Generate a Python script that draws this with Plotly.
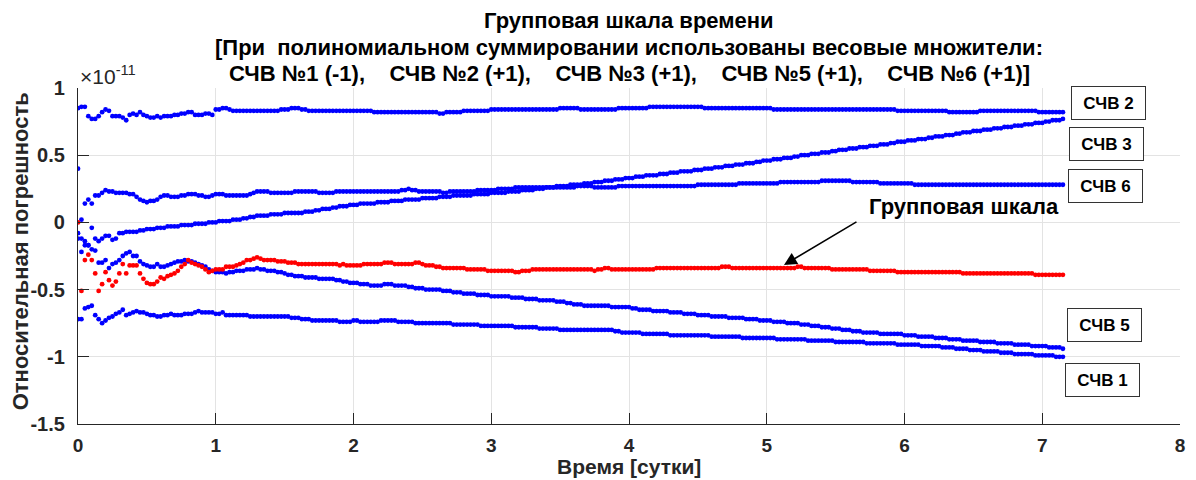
import numpy as np
import plotly.graph_objects as go

# sampling step of the measurements, days
STEP_DAYS = 0.025
SCALE = 0.01  # values below are stored in units of 1e-13 (0.01 of the 1e-11 axis unit)

schv2 = [85, 86, 86, 79, 77, 77, 79, 82, 84, 83, 79, 79, 79, 78, 76, 80, 81, 80, 82, 80,
         79, 78, 78, 79, 78, 79, 79, 79, 80, 80, 81, 81, 82, 82, 80, 80, 80, 81, 81, 80,
         84, 84, 85, 85, 84, 83, 83, 83, 83, 83, 83, 83, 83, 83, 83, 83, 83, 83, 83, 84,
         84, 84, 85, 85, 85, 84, 84, 83, 83, 83, 83, 83, 83, 83, 83, 83, 83, 83, 83, 83,
         83, 83, 83, 83, 83, 83, 82, 82, 82, 82, 82, 82, 82, 82, 82, 82, 82, 82, 82, 82,
         82, 82, 82, 82, 82, 81, 81, 82, 82, 82, 82, 82, 83, 83, 83, 83, 83, 83, 83, 83,
         84, 84, 84, 84, 84, 84, 84, 84, 84, 84, 84, 84, 84, 84, 84, 84, 84, 84, 84, 84,
         85, 85, 85, 85, 85, 85, 84, 84, 84, 84, 84, 84, 84, 84, 84, 84, 84, 85, 85, 85,
         85, 85, 85, 85, 85, 85, 86, 86, 86, 86, 86, 86, 86, 86, 86, 86, 86, 86, 86, 86,
         86, 86, 85, 85, 85, 85, 85, 85, 85, 85, 85, 85, 85, 85, 85, 85, 85, 85, 85, 85,
         85, 85, 84, 84, 84, 84, 84, 84, 84, 84, 84, 84, 84, 84, 84, 84, 84, 84, 84, 84,
         84, 84, 84, 84, 84, 84, 84, 84, 84, 84, 84, 84, 84, 84, 84, 84, 84, 84, 83, 83,
         83, 83, 83, 83, 83, 83, 83, 83, 83, 83, 83, 83, 83, 82, 82, 82, 82, 82, 82, 82,
         82, 82, 83, 83, 83, 83, 83, 83, 83, 83, 83, 83, 83, 83, 83, 83, 83, 83, 83, 82,
         82, 82, 82, 82, 82, 82, 82]

schv3 = [-8, -12, -14, -17, -4, -12, -14, -12, -10, -10, -13, -12, -8, -8, -7, -7, -7, -7, -6, -6,
         -5, -5, -5, -4, -4, -4, -3, -3, -3, -3, -2, -2, -2, -2, -1, -1, -1, -1, 0, 0,
         0, 1, 1, 1, 1, 2, 2, 2, 3, 3, 4, 4, 5, 5, 5, 5, 6, 6, 6, 6,
         7, 7, 7, 7, 7, 7, 8, 8, 8, 9, 9, 10, 10, 10, 11, 11, 12, 12, 12, 13,
         13, 13, 14, 14, 14, 14, 14, 15, 15, 15, 15, 16, 16, 16, 16, 17, 17, 17, 17, 17,
         18, 18, 18, 18, 18, 19, 19, 19, 19, 20, 20, 20, 20, 20, 20, 21, 21, 21, 21, 21,
         22, 22, 22, 22, 22, 23, 23, 23, 23, 24, 24, 24, 24, 25, 25, 25, 26, 26, 26, 27,
         27, 27, 27, 28, 28, 28, 28, 29, 29, 29, 30, 30, 30, 31, 31, 31, 32, 32, 32, 33,
         33, 33, 34, 34, 34, 35, 35, 35, 35, 36, 36, 36, 37, 37, 37, 38, 38, 38, 38, 39,
         39, 39, 40, 40, 40, 41, 41, 41, 42, 42, 42, 43, 43, 43, 44, 44, 44, 45, 45, 46,
         46, 46, 47, 47, 47, 48, 48, 48, 49, 49, 50, 50, 50, 51, 51, 51, 52, 52, 52, 53,
         53, 54, 54, 54, 55, 55, 55, 56, 56, 56, 57, 57, 57, 58, 58, 58, 59, 59, 60, 60,
         60, 61, 61, 61, 62, 62, 62, 63, 63, 64, 64, 64, 65, 65, 65, 66, 66, 67, 67, 67,
         68, 68, 68, 69, 69, 69, 70, 70, 70, 71, 71, 71, 72, 72, 72, 73, 73, 73, 74, 74,
         74, 75, 75, 76, 76, 76, 77]

schv6 = [40, 2, 14, 17, 14, 20, 20, 22, 24, 23, 23, 22, 22, 22, 22, 21, 21, 19, 17, 16,
         15, 16, 16, 17, 19, 20, 20, 19, 19, 19, 20, 20, 21, 21, 21, 20, 20, 19, 19, 20,
         21, 21, 21, 20, 20, 20, 20, 20, 20, 20, 21, 22, 23, 23, 23, 23, 22, 22, 22, 22,
         22, 22, 22, 23, 23, 23, 23, 23, 23, 23, 22, 22, 22, 22, 22, 23, 23, 23, 23, 23,
         23, 23, 23, 23, 23, 23, 23, 23, 23, 23, 23, 23, 23, 23, 24, 24, 25, 24, 24, 23,
         23, 23, 23, 23, 23, 23, 22, 22, 23, 23, 23, 23, 23, 23, 23, 23, 24, 24, 24, 24,
         24, 24, 25, 25, 25, 25, 25, 26, 26, 26, 26, 26, 26, 26, 26, 26, 26, 26, 26, 26,
         26, 26, 26, 26, 26, 27, 27, 27, 27, 27, 26, 26, 26, 26, 26, 26, 26, 27, 27, 27,
         27, 27, 27, 27, 27, 27, 27, 27, 27, 27, 27, 27, 27, 27, 27, 27, 27, 27, 27, 27,
         28, 28, 28, 28, 28, 28, 28, 28, 28, 28, 28, 28, 29, 29, 29, 29, 29, 29, 29, 29,
         29, 29, 29, 29, 30, 30, 30, 30, 30, 30, 30, 30, 30, 30, 30, 30, 31, 31, 31, 31,
         31, 31, 31, 31, 31, 30, 30, 30, 30, 30, 30, 30, 30, 29, 29, 29, 29, 29, 29, 29,
         29, 29, 29, 28, 28, 28, 28, 28, 28, 28, 28, 28, 28, 28, 28, 28, 28, 28, 28, 28,
         28, 28, 28, 28, 28, 28, 28, 28, 28, 28, 28, 28, 28, 28, 28, 28, 28, 28, 28, 28,
         28, 28, 28, 28, 28, 28, 28]

schv5 = [-12, -22, -17, -17, -20, -21, -30, -30, -28, -34, -31, -30, -28, -25, -23, -22, -25, -25, -29, -31,
         -32, -33, -33, -31, -33, -33, -32, -31, -30, -29, -29, -28, -29, -29, -30, -31, -32, -33, -35, -36,
         -37, -37, -37, -38, -37, -37, -36, -36, -36, -35, -35, -35, -34, -35, -35, -36, -36, -36, -37, -37,
         -38, -39, -39, -40, -40, -40, -41, -41, -41, -41, -42, -42, -42, -42, -42, -43, -43, -44, -44, -45,
         -45, -45, -46, -46, -46, -47, -47, -47, -47, -46, -46, -46, -47, -47, -47, -47, -48, -48, -49, -49,
         -49, -50, -50, -50, -50, -50, -51, -51, -51, -52, -52, -52, -53, -53, -53, -53, -54, -54, -54, -54,
         -55, -55, -55, -55, -55, -55, -56, -56, -56, -56, -57, -57, -57, -57, -58, -58, -58, -58, -58, -59,
         -59, -59, -60, -60, -61, -61, -61, -62, -62, -62, -62, -62, -62, -62, -62, -63, -63, -63, -63, -63,
         -63, -64, -64, -65, -65, -65, -65, -66, -66, -66, -66, -66, -67, -67, -67, -67, -68, -68, -68, -68,
         -69, -69, -69, -69, -70, -70, -70, -70, -70, -71, -71, -71, -71, -71, -72, -72, -72, -72, -73, -73,
         -73, -73, -74, -74, -74, -74, -75, -75, -75, -75, -76, -76, -76, -77, -77, -77, -78, -78, -78, -79,
         -79, -79, -80, -80, -80, -81, -81, -81, -82, -82, -82, -82, -82, -83, -83, -83, -83, -83, -83, -83,
         -84, -84, -84, -84, -85, -85, -85, -85, -85, -86, -86, -86, -86, -87, -87, -87, -87, -88, -88, -88,
         -88, -88, -89, -89, -89, -89, -89, -90, -90, -90, -90, -90, -91, -91, -91, -91, -91, -92, -92, -92,
         -92, -92, -93, -93, -93, -93, -94]

schv1 = [-72, -72, -64, -63, -62, -69, -72, -75, -73, -71, -70, -68, -67, -65, -69, -68, -67, -66, -67, -67,
         -68, -69, -69, -70, -70, -69, -69, -68, -69, -69, -69, -68, -68, -68, -67, -66, -67, -67, -67, -67,
         -68, -68, -67, -69, -69, -69, -69, -69, -69, -69, -70, -70, -70, -70, -70, -70, -70, -70, -70, -70,
         -70, -70, -71, -71, -71, -72, -72, -72, -73, -73, -73, -73, -73, -73, -73, -73, -74, -74, -74, -74,
         -73, -73, -74, -74, -74, -74, -74, -74, -73, -73, -73, -73, -73, -74, -74, -74, -74, -74, -75, -75,
         -75, -75, -75, -75, -75, -75, -75, -75, -75, -76, -76, -76, -76, -76, -76, -76, -76, -77, -77, -77,
         -77, -77, -77, -77, -77, -77, -77, -78, -78, -78, -78, -78, -78, -78, -79, -79, -79, -79, -79, -79,
         -80, -80, -80, -80, -80, -80, -80, -80, -80, -80, -80, -80, -80, -80, -80, -80, -81, -81, -82, -82,
         -82, -82, -82, -82, -83, -83, -83, -83, -83, -83, -83, -83, -84, -84, -84, -84, -84, -84, -84, -84,
         -84, -84, -84, -84, -85, -85, -85, -85, -85, -85, -85, -85, -85, -86, -86, -86, -86, -86, -86, -86,
         -86, -86, -86, -87, -87, -87, -87, -87, -87, -87, -87, -87, -88, -88, -88, -88, -88, -88, -88, -88,
         -89, -89, -89, -89, -89, -89, -89, -89, -89, -90, -90, -90, -90, -90, -90, -90, -90, -90, -91, -91,
         -91, -91, -91, -91, -91, -92, -92, -92, -92, -92, -92, -93, -93, -93, -93, -94, -94, -94, -94, -95,
         -95, -95, -95, -96, -96, -96, -96, -96, -97, -97, -97, -97, -98, -98, -98, -98, -98, -98, -99, -99,
         -99, -99, -99, -99, -100, -100, -100]

group = [0, -51, -28, -24, -28, -38, -51, -46, -37, -43, -47, -44, -38, -31, -38, -32, -32, -32, -38, -42,
         -45, -46, -46, -44, -41, -42, -40, -39, -38, -36, -33, -31, -28, -30, -31, -32, -33, -35, -37, -36,
         -35, -35, -35, -33, -33, -33, -32, -31, -30, -28, -28, -27, -26, -27, -28, -28, -28, -28, -29, -29,
         -29, -30, -30, -30, -31, -31, -31, -31, -31, -31, -31, -31, -31, -31, -31, -31, -32, -31, -32, -32,
         -32, -32, -32, -31, -31, -31, -31, -31, -31, -30, -30, -30, -31, -31, -31, -31, -31, -31, -30, -30,
         -31, -32, -32, -32, -33, -33, -34, -34, -34, -34, -34, -34, -34, -35, -35, -35, -35, -35, -35, -36,
         -36, -36, -36, -36, -36, -36, -36, -37, -37, -36, -36, -36, -35, -35, -35, -35, -35, -35, -35, -35,
         -35, -35, -35, -35, -35, -35, -35, -35, -35, -35, -36, -35, -35, -34, -34, -35, -35, -35, -35, -35,
         -35, -35, -35, -35, -35, -35, -35, -35, -34, -34, -34, -34, -34, -34, -34, -34, -34, -34, -34, -34,
         -34, -34, -34, -34, -34, -34, -34, -33, -33, -33, -34, -34, -34, -34, -34, -34, -34, -34, -34, -34,
         -34, -34, -34, -34, -34, -34, -34, -34, -34, -33, -33, -34, -34, -34, -34, -34, -34, -34, -34, -35,
         -35, -35, -35, -35, -35, -35, -35, -35, -35, -35, -36, -36, -36, -36, -36, -36, -36, -36, -37, -37,
         -37, -37, -37, -37, -37, -37, -37, -37, -37, -37, -37, -37, -37, -37, -37, -37, -37, -38, -38, -38,
         -38, -38, -38, -38, -38, -38, -38, -38, -38, -38, -38, -38, -38, -38, -38, -38, -38, -38, -39, -39,
         -39, -39, -39, -39, -39, -39, -39]

blue_series = [("СЧВ 2", schv2), ("СЧВ 3", schv3), ("СЧВ 6", schv6), ("СЧВ 5", schv5), ("СЧВ 1", schv1)]

# label boxes: name, x (days), y (1e-11)
box_labels = [("СЧВ 2", 7.48, 0.892), ("СЧВ 3", 7.47, 0.583), ("СЧВ 6", 7.46, 0.274),
              ("СЧВ 5", 7.45, -0.764), ("СЧВ 1", 7.44, -1.173)]

y_tickvals = [1, 0.5, 0, -0.5, -1, -1.5]
y_ticktext = ["1", "0.5", "0", "-0.5", "-1", "-1.5"]
x_tickvals = [0, 1, 2, 3, 4, 5, 6, 7, 8]

title_lines = ["Групповая шкала времени",
               "[При\u00a0\u00a0полиномиальном суммировании использованы весовые множители:",
               "СЧВ №1 (-1),\u00a0\u00a0\u00a0\u00a0СЧВ №2 (+1),\u00a0\u00a0\u00a0\u00a0СЧВ №3 (+1),\u00a0\u00a0\u00a0\u00a0СЧВ №5 (+1),\u00a0\u00a0\u00a0\u00a0СЧВ №6 (+1)]"]

FONT = "Liberation Sans, Arial, Helvetica, sans-serif"

fig = go.Figure()

def tgrid(vals):
    return np.arange(len(vals)) * STEP_DAYS

for name, vals in blue_series:
    fig.add_trace(go.Scatter(x=tgrid(vals), y=np.array(vals) * SCALE, mode="markers",
                             marker=dict(color="#0000ff", size=4.8, line=dict(width=0)),
                             name=name, showlegend=False))
fig.add_trace(go.Scatter(x=tgrid(group), y=np.array(group) * SCALE, mode="markers",
                         marker=dict(color="#ff0000", size=4.8, line=dict(width=0)),
                         name="Групповая шкала", showlegend=False))

annotations = []
# title lines
for text, py in zip(title_lines, [20, 47, 74]):
    annotations.append(dict(text="<b>" + text + "</b>", xref="paper", yref="paper",
                            x=0.5, y=(424 - py) / 336, xanchor="center", yanchor="middle",
                            showarrow=False, font=dict(size=22, color="black", family=FONT)))
# axis titles
annotations.append(dict(text="<b>Время [сутки]</b>", xref="paper", yref="paper", x=0.5,
                        y=(424 - 466) / 336, xanchor="center", yanchor="middle", showarrow=False,
                        font=dict(size=21, color="#262626", family=FONT)))
annotations.append(dict(text="<b>Относительная погрешность</b>", xref="paper", yref="paper",
                        x=(20 - 78) / 1107, y=(424 - 251) / 336, xanchor="center", yanchor="middle",
                        textangle=-90, showarrow=False, font=dict(size=22, color="#262626", family=FONT)))
# exponent
annotations.append(dict(text="×10<sup>-11</sup>", xref="paper", yref="paper", x=0.0, y=1.0,
                        xanchor="left", yanchor="bottom", yshift=-2, showarrow=False,
                        font=dict(size=21, color="#262626", family=FONT)))
# label boxes
for name, bx, by in box_labels:
    annotations.append(dict(text="<b>" + name + "</b>", x=bx, y=by, xref="x", yref="y",
                            showarrow=False, width=73, height=32, borderpad=0,
                            bordercolor="#333333", borderwidth=1, bgcolor="white",
                            xanchor="center", yanchor="middle",
                            font=dict(size=17, color="black", family=FONT)))
# group scale label and arrow
annotations.append(dict(text="<b>Групповая шкала</b>", x=6.43, y=0.115, xref="x", yref="y",
                        showarrow=False, xanchor="center", yanchor="middle",
                        font=dict(size=22, color="black", family=FONT)))
annotations.append(dict(text="", x=5.125, y=-0.317, xref="x", yref="y", showarrow=True,
                        ax=74, ay=-44, arrowhead=2, arrowsize=1.6, arrowwidth=1.6,
                        arrowcolor="black"))

axis_common = dict(showline=True, linecolor="#262626", linewidth=1.2, ticks="inside",
                   ticklen=11, tickwidth=1, tickcolor="#262626", showgrid=True,
                   gridcolor="#e3e3e3", gridwidth=1, zeroline=False, mirror=False)

fig.update_layout(
    width=1196, height=480,
    margin=dict(l=78, r=11, t=88, b=56),
    paper_bgcolor="white", plot_bgcolor="white",
    annotations=annotations,
    font=dict(family=FONT),
    xaxis=dict(range=[0, 8], tickvals=x_tickvals, ticktext=["<b>%d</b>" % v for v in x_tickvals],
               ticklabelstandoff=4, tickfont=dict(size=19, color="#262626", family=FONT),
               **axis_common),
    yaxis=dict(range=[-1.5, 1], tickvals=y_tickvals, ticktext=["<b>%s</b>" % t for t in y_ticktext],
               ticklabelstandoff=8, tickfont=dict(size=20, color="#262626", family=FONT),
               **axis_common),
)

fig.write_html("out.html")
